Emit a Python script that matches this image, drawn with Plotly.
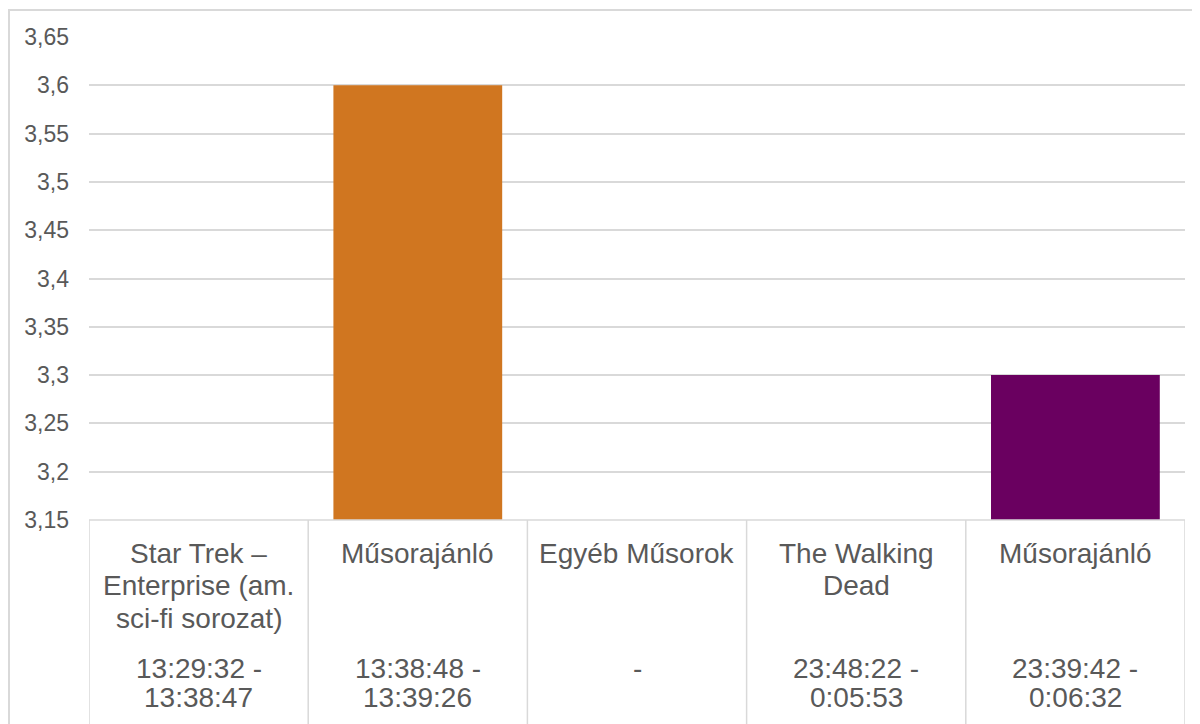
import plotly.graph_objects as go

categories = ["Star Trek –<br>Enterprise (am.<br>sci-fi sorozat)", "Műsorajánló", "Egyéb Műsorok",
              "The Walking<br>Dead", "Műsorajánló"]
time_ranges = ["13:29:32 -<br>13:38:47", "13:38:48 -<br>13:39:26", "-",
               "23:48:22 -<br>0:05:53", "23:39:42 -<br>0:06:32"]
values = [None, 3.6, None, None, 3.3]
bar_colors = ["#D07620", "#D07620", "#D07620", "#D07620", "#6A0060"]
y_tick_values = [3.15, 3.2, 3.25, 3.3, 3.35, 3.4, 3.45, 3.5, 3.55, 3.6, 3.65]
y_tick_labels = ["3,15", "3,2", "3,25", "3,3", "3,35", "3,4", "3,45", "3,5", "3,55", "3,6", "3,65"]

OFF = 8  # page body margin
W, H = 1200, 724
L, T = 89 - OFF, 37 - OFF
R = W - (1185 - OFF)
B = H - (520 - OFF)
PW, PH = W - L - R, H - T - B
TXT = "#595959"
GRID = "#D9D9D9"
FONT = "Liberation Sans, Arial, sans-serif"

xs = list(range(len(categories)))
fig = go.Figure(go.Bar(x=xs, y=values, marker=dict(color=bar_colors, line=dict(width=0)),
                       width=0.77, hoverinfo="skip"))

fig.update_layout(
    width=W, height=H, margin=dict(l=L, r=R, t=T, b=B),
    paper_bgcolor="white", plot_bgcolor="white", showlegend=False,
    font=dict(family=FONT, color=TXT),
    xaxis=dict(range=[-0.5, len(categories) - 0.5], showticklabels=False, showgrid=False,
               zeroline=False, showline=False, ticks=""),
    yaxis=dict(range=[3.15, 3.65], tickvals=y_tick_values, ticktext=y_tick_labels,
               showgrid=True, gridcolor=GRID, gridwidth=1.5, zeroline=False, showline=False,
               ticks="", tickfont=dict(size=23, color=TXT, family=FONT), ticklabelstandoff=19),
)

shapes = []
shapes.append(dict(type="line", xref="paper", yref="paper", x0=0, x1=1, y0=0, y1=0,
                   line=dict(color=GRID, width=1.5)))
for i in range(len(categories) + 1):
    shapes.append(dict(type="line", xref="x", yref="paper", x0=i - 0.5, x1=i - 0.5,
                       y0=0, y1=-(B + 10) / PH, line=dict(color=GRID, width=1.5)))
# outer border
shapes.append(dict(type="rect", xref="paper", yref="paper",
                   x0=(1 - L) / PW, x1=(W + 20 - L) / PW,
                   y0=-(B + 20) / PH, y1=(PH + T - 2) / PH,
                   line=dict(color=GRID, width=2), fillcolor="rgba(0,0,0,0)", layer="below"))
fig.update_layout(shapes=shapes)

base = T + PH  # page y of axis
anns = []
for i, (c, t) in enumerate(zip(categories, time_ranges)):
    for j, line in enumerate(c.split("<br>")):
        ypix = 553 - OFF + j * 32.5
        anns.append(dict(x=i, y=0, xref="x", yref="paper", text=line, showarrow=False,
                         yshift=-(ypix - base), yanchor="middle", xanchor="center",
                         font=dict(size=28, color=TXT, family=FONT)))
    for j, line in enumerate(t.split("<br>")):
        ypix = 668 - OFF + j * 29
        anns.append(dict(x=i, y=0, xref="x", yref="paper", text=line, showarrow=False,
                         yshift=-(ypix - base), yanchor="middle", xanchor="center",
                         font=dict(size=28, color=TXT, family=FONT)))
fig.update_layout(annotations=anns)

fig.write_html("out.html")
